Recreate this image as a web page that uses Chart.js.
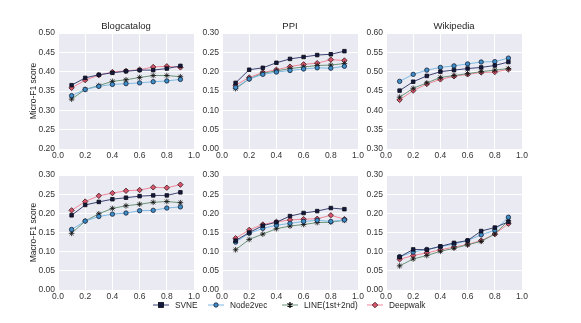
<!DOCTYPE html>
<html>
<head>
<meta charset="utf-8">
<script src="https://cdn.jsdelivr.net/npm/chart.js@4"></script>
<style>
  body { margin: 0; background: #fff; width: 581px; height: 323px; overflow: hidden; position: relative; font-family: "Liberation Sans", Arial, sans-serif; }
  canvas { position: absolute; }
  #legend span { position: absolute; top: 300px; display: flex; align-items: center; font-size: 8.3px; color: #262626; white-space: nowrap; }
  #legend svg { margin-right: 6px; }
</style>
</head>
<body>
<canvas id="c0"></canvas>
<canvas id="c1"></canvas>
<canvas id="c2"></canvas>
<canvas id="c3"></canvas>
<canvas id="c4"></canvas>
<canvas id="c5"></canvas>
<div id="legend"></div>
<script>
// training ratio
const ratios = [0.1, 0.2, 0.3, 0.4, 0.5, 0.6, 0.7, 0.8, 0.9]
const methods = ['SVNE', 'Node2vec', 'LINE(1st+2nd)', 'Deepwalk']
const titles = ['Blogcatalog', 'PPI', 'Wikipedia']

// Micro-F1
const blogMicroSVNE = [0.365, 0.384, 0.392, 0.397, 0.401, 0.404, 0.404, 0.408, 0.415]
const blogMicroNode2vec = [0.338, 0.354, 0.362, 0.367, 0.369, 0.371, 0.374, 0.376, 0.380]
const blogMicroLINE = [0.329, 0.354, 0.364, 0.375, 0.379, 0.385, 0.390, 0.390, 0.387]
const blogMicroDeepwalk = [0.358, 0.378, 0.391, 0.399, 0.402, 0.405, 0.412, 0.414, 0.411]

const ppiMicroSVNE = [0.171, 0.205, 0.210, 0.223, 0.233, 0.238, 0.243, 0.245, 0.253]
const ppiMicroNode2vec = [0.159, 0.181, 0.193, 0.199, 0.203, 0.207, 0.210, 0.209, 0.214]
const ppiMicroLINE = [0.156, 0.181, 0.196, 0.202, 0.208, 0.212, 0.216, 0.217, 0.221]
const ppiMicroDeepwalk = [0.165, 0.185, 0.198, 0.205, 0.213, 0.219, 0.222, 0.231, 0.229]

const wikiMicroSVNE = [0.451, 0.474, 0.489, 0.500, 0.504, 0.508, 0.511, 0.516, 0.525]
const wikiMicroNode2vec = [0.475, 0.493, 0.504, 0.511, 0.515, 0.520, 0.525, 0.526, 0.535]
const wikiMicroLINE = [0.434, 0.457, 0.471, 0.485, 0.490, 0.495, 0.500, 0.504, 0.508]
const wikiMicroDeepwalk = [0.427, 0.451, 0.468, 0.480, 0.488, 0.493, 0.498, 0.499, 0.506]

// Macro-F1
const blogMacroSVNE = [0.195, 0.222, 0.230, 0.237, 0.241, 0.245, 0.247, 0.247, 0.255]
const blogMacroNode2vec = [0.158, 0.180, 0.192, 0.198, 0.201, 0.207, 0.208, 0.214, 0.217]
const blogMacroLINE = [0.148, 0.180, 0.199, 0.213, 0.220, 0.224, 0.229, 0.231, 0.228]
const blogMacroDeepwalk = [0.208, 0.231, 0.246, 0.253, 0.259, 0.261, 0.268, 0.267, 0.275]

const ppiMacroSVNE = [0.129, 0.150, 0.168, 0.177, 0.193, 0.201, 0.206, 0.214, 0.211]
const ppiMacroNode2vec = [0.125, 0.148, 0.161, 0.169, 0.174, 0.179, 0.182, 0.179, 0.183]
const ppiMacroLINE = [0.105, 0.132, 0.146, 0.160, 0.167, 0.171, 0.176, 0.177, 0.182]
const ppiMacroDeepwalk = [0.135, 0.157, 0.171, 0.178, 0.183, 0.185, 0.186, 0.195, 0.185]

const wikiMacroSVNE = [0.086, 0.106, 0.105, 0.114, 0.123, 0.129, 0.154, 0.163, 0.178]
const wikiMacroNode2vec = [0.087, 0.099, 0.106, 0.113, 0.120, 0.129, 0.144, 0.156, 0.190]
const wikiMacroLINE = [0.063, 0.081, 0.090, 0.101, 0.109, 0.118, 0.127, 0.146, 0.181]
const wikiMacroDeepwalk = [0.080, 0.090, 0.097, 0.105, 0.112, 0.119, 0.129, 0.146, 0.173]

const yMins = [0.20, 0.00, 0.30, 0.00, 0.00, 0.00]
const yMaxs = [0.50, 0.30, 0.60, 0.30, 0.30, 0.30]

const panels = [
  [blogMicroSVNE, blogMicroNode2vec, blogMicroLINE, blogMicroDeepwalk],
  [ppiMicroSVNE, ppiMicroNode2vec, ppiMicroLINE, ppiMicroDeepwalk],
  [wikiMicroSVNE, wikiMicroNode2vec, wikiMicroLINE, wikiMicroDeepwalk],
  [blogMacroSVNE, blogMacroNode2vec, blogMacroLINE, blogMacroDeepwalk],
  [ppiMacroSVNE, ppiMacroNode2vec, ppiMacroLINE, ppiMacroDeepwalk],
  [wikiMacroSVNE, wikiMacroNode2vec, wikiMacroLINE, wikiMacroDeepwalk]
]

const styles = [
  { line: '#3b4373', fill: '#141a3f', edge: '#0a0a14', shape: 'rect', r: 2.5 },
  { line: '#7dbbe4', fill: '#3f8fc8', edge: '#14213a', shape: 'circle', r: 2.2 },
  { line: '#6b9479', fill: '#111111', edge: '#111111', shape: 'star', r: 2.8 },
  { line: '#f08799', fill: '#d9556c', edge: '#3a1a20', shape: 'rectRot', r: 2.7 }
]

Chart.defaults.font.family = '"Liberation Sans", Arial, sans-serif'
Chart.defaults.font.size = 8.5
Chart.defaults.color = '#333333'

const bgPlugin = {
  id: 'bg',
  beforeDraw (c) {
    const { ctx, chartArea: a } = c
    ctx.save()
    ctx.fillStyle = '#eaeaf2'
    ctx.fillRect(a.left, a.top, a.width, a.height)
    ctx.restore()
  }
}

const plotLefts = [58, 222, 386]
const plotW = 136

panels.forEach((series, i) => {
  const col = i % 3
  const row = Math.floor(i / 3)
  const yW = col === 0 ? 58 : 36
  const left = plotLefts[col] - yW
  const topPad = row === 0 ? 0 : 6
  const titleH = row === 0 ? 13 : 0
  const plotH = row === 0 ? 116 : 117
  const top = row === 0 ? 33 - titleH : 173 - topPad
  const w = yW + plotW + 10
  const h = topPad + titleH + plotH + 14

  const cv = document.getElementById('c' + i)
  cv.width = w
  cv.height = h
  cv.style.left = left + 'px'
  cv.style.top = top + 'px'
  cv.style.width = w + 'px'
  cv.style.height = h + 'px'

  new Chart(cv, {
    type: 'line',
    data: {
      datasets: series.map((vals, k) => ({
        label: methods[k],
        data: ratios.map((x, j) => ({ x: x, y: vals[j] })),
        borderColor: styles[k].line,
        borderWidth: 1,
        pointStyle: styles[k].shape,
        pointRadius: styles[k].r,
        pointBackgroundColor: styles[k].fill,
        pointBorderColor: styles[k].edge,
        pointBorderWidth: 0.8,
        tension: 0
      }))
    },
    options: {
      responsive: false,
      animation: false,
      events: [],
      layout: { padding: { left: 0, right: 10, top: topPad, bottom: 0 } },
      plugins: {
        legend: { display: false },
        tooltip: { enabled: false },
        title: {
          display: row === 0,
          fullSize: false,
          text: titles[col],
          color: '#262626',
          font: { size: 9.5, weight: 'normal' },
          padding: { top: 0.6, bottom: 1 }
        }
      },
      scales: {
        x: {
          type: 'linear',
          min: 0,
          max: 1,
          afterFit: s => { s.height = 14 },
          ticks: { stepSize: 0.2, padding: 2, callback: v => v.toFixed(1) },
          grid: { color: '#ffffff', lineWidth: 1, drawTicks: false },
          border: { display: false }
        },
        y: {
          min: yMins[i],
          max: yMaxs[i],
          afterFit: s => { s.width = yW },
          ticks: { stepSize: 0.05, padding: 3, callback: v => v.toFixed(2) },
          grid: { color: '#ffffff', lineWidth: 1, drawTicks: false },
          border: { display: false },
          title: {
            display: col === 0,
            text: row === 0 ? 'Micro-F1 score' : 'Macro-F1 score',
            color: '#262626',
            font: { size: 8.5 },
            padding: { top: 29, bottom: 0 }
          }
        }
      }
    },
    plugins: [bgPlugin]
  })
})

// legend: line with marker, drawn as small svg icons
const legendEl = document.getElementById('legend')
const legendX = [153, 208, 282, 367]
methods.forEach((m, k) => {
  const st = styles[k]
  let mark = ''
  if (st.shape === 'rect') mark = '<rect x="5.5" y="2.5" width="5" height="5" fill="' + st.fill + '" stroke="' + st.edge + '" stroke-width="0.8"/>'
  else if (st.shape === 'circle') mark = '<circle cx="8" cy="5" r="2.2" fill="' + st.fill + '" stroke="' + st.edge + '" stroke-width="0.8"/>'
  else if (st.shape === 'star') mark = '<path d="M8 2 L8 8 M5.4 3.5 L10.6 6.5 M5.4 6.5 L10.6 3.5" stroke="' + st.edge + '" stroke-width="1.4"/>'
  else mark = '<path d="M8 2.2 L10.8 5 L8 7.8 L5.2 5 Z" fill="' + st.fill + '" stroke="' + st.edge + '" stroke-width="0.8"/>'
  const span = document.createElement('span')
  span.style.left = legendX[k] + 'px'
  span.innerHTML = '<svg width="16" height="10"><line x1="0" y1="5" x2="16" y2="5" stroke="' + st.line + '" stroke-width="1"/>' + mark + '</svg>' + m
  legendEl.appendChild(span)
})
</script>
</body>
</html>
